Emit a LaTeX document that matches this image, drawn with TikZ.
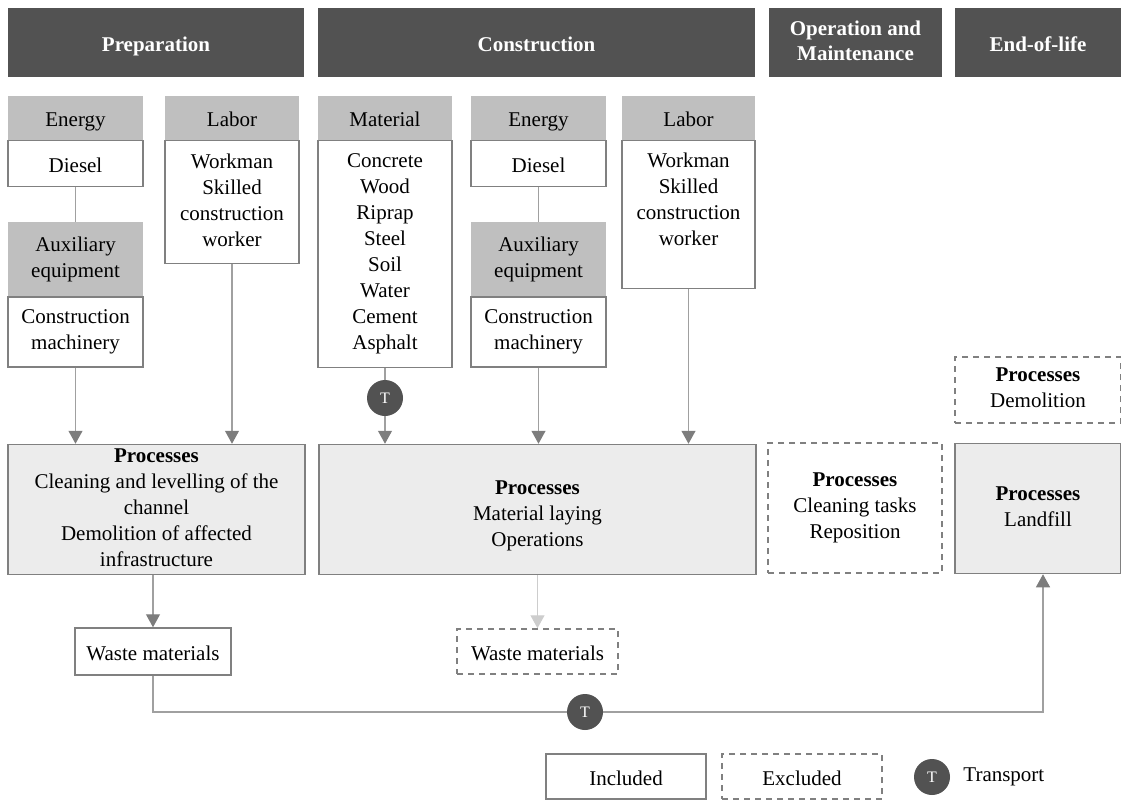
\documentclass[tikz,border=0pt]{standalone}
\usepackage{fontspec}
\setmainfont{Liberation Serif}
\usetikzlibrary{positioning,arrows.meta}

\definecolor{phasegray}{RGB}{82,82,82}
\definecolor{catgray}{RGB}{191,191,191}
\definecolor{procgray}{RGB}{236,236,236}
\definecolor{boxgray}{RGB}{128,128,128}
\definecolor{linegray}{RGB}{160,160,160}
\definecolor{headgray}{RGB}{125,125,125}
\definecolor{lightline}{RGB}{205,205,205}
\newcommand{\boxstrut}{\rule[-4pt]{0pt}{26pt}}

\begin{document}
\begin{tikzpicture}[
  x=1pt, y=-1pt,
  node distance=0pt,
  every node/.style={font=\fontsize{21}{26}\selectfont, align=center, inner sep=2pt},
  st/.style={execute at begin node=\boxstrut, execute at end node=\boxstrut},
  phase/.style={st, fill=phasegray, text=white, font=\fontsize{21}{25}\selectfont\bfseries, minimum height=69pt},
  cat/.style={st, fill=catgray, minimum height=44pt},
  item/.style={st, draw=boxgray, line width=1.5pt, fill=white},
  proc/.style={st, draw=boxgray, line width=1.5pt, fill=procgray, minimum height=130pt},
  excl/.style={st, draw=boxgray, line width=1.5pt, dash pattern=on 6pt off 5pt},
  tcirc/.style={circle, fill=phasegray, text=white, minimum size=36pt, inner sep=0pt, font=\fontsize{16}{18}\selectfont},
  link/.style={draw=linegray, line width=1.2pt},
  flow/.style={link, -{Triangle[width=14pt, length=13pt, color=headgray]}},
]
\useasboundingbox (0,0) rectangle (1121,800);

% life cycle phases
\node[phase, minimum width=296pt] (prep) at (156,42.5) {Preparation};
\node[phase, minimum width=437pt] (cons) at (536.5,42.5) {Construction};
\node[phase, minimum width=173pt] (oper) at (855.5,42.5) {Operation and\\Maintenance};
\node[phase, minimum width=166pt] (eol) at (1038,42.5) {End-of-life};

% preparation inputs
\node[cat, minimum width=135pt] (en1) at (75.5,117.5) {Energy};
\node[item, minimum width=135pt, minimum height=46pt, below=of en1] (diesel1) {Diesel};
\node[cat, minimum width=135pt, minimum height=74pt] (aux1) at (75.5,259) {Auxiliary\\equipment};
\node[item, minimum width=135pt, minimum height=70pt, below=of aux1] (mach1) {Construction\\machinery};
\node[cat, minimum width=134pt] (lab1) at (232,117.5) {Labor};
\node[item, minimum width=134pt, minimum height=123pt, below=of lab1] (work1) {Workman\\Skilled\\construction\\worker};

% construction inputs
\node[cat, minimum width=134pt] (mat) at (385,117.5) {Material};
\node[item, minimum width=134pt, minimum height=227pt, below=of mat] (matlist) {Concrete\\Wood\\Riprap\\Steel\\Soil\\Water\\Cement\\Asphalt};
\node[cat, minimum width=135pt] (en2) at (538.5,117.5) {Energy};
\node[item, minimum width=135pt, minimum height=46pt, below=of en2] (diesel2) {Diesel};
\node[cat, minimum width=135pt, minimum height=74pt] (aux2) at (538.5,259) {Auxiliary\\equipment};
\node[item, minimum width=135pt, minimum height=70pt, below=of aux2] (mach2) {Construction\\machinery};
\node[cat, minimum width=133pt] (lab2) at (688.5,117.5) {Labor};
\node[item, minimum width=133pt, minimum height=148pt, below=of lab2] (work2) {Workman\\Skilled\\construction\\worker\\};

% processes
\node[proc, minimum width=297pt] (proc1) at (156.5,509.5) {\textbf{Processes}\\Cleaning and levelling of the\\channel\\Demolition of affected\\infrastructure};
\node[proc, minimum width=437pt] (proc2) at (537.5,509.5) {\\\textbf{Processes}\\Material laying\\Operations};
\node[excl, minimum width=174pt, minimum height=130pt] (proc3) at (855,508) {\textbf{Processes}\\Cleaning tasks\\Reposition};
\node[proc, minimum width=166pt] (proc4) at (1038,508.5) {\textbf{Processes}\\Landfill};
\node[excl, minimum width=166pt, minimum height=66pt] (demol) at (1038,390) {\textbf{Processes}\\Demolition};

\node[tcirc] (t1) at (385,398) {T};

% waste
\node[item, minimum width=156pt, minimum height=47pt] (waste1) at (153,651.5) {Waste materials};
\node[excl, minimum width=161pt, minimum height=45pt] (waste2) at (537.5,651.5) {Waste materials};

\draw[link] (diesel1) -- (aux1);
\draw[link] (diesel2) -- (aux2);
\draw[link] (matlist) -- (t1);
\draw[flow] (mach1) -- (mach1 |- proc1.north);
\draw[flow] (work1) -- (work1 |- proc1.north);
\draw[flow] (t1) -- (t1 |- proc2.north);
\draw[flow] (mach2) -- (mach2 |- proc2.north);
\draw[flow] (work2) -- (work2 |- proc2.north);
\draw[flow] (waste1 |- proc1.south) -- (waste1);
\draw[link, draw=lightline, -{Triangle[width=14pt, length=13pt, color=lightline]}] (proc2) -- (waste2);

% transport to landfill
\coordinate (tpos) at (585,712);
\draw[flow] (waste1.south) |- (tpos) -| ([xshift=5pt]proc4.south);
\node[tcirc] (t2) at (tpos) {T};

% legend
\node[item, minimum width=160pt, minimum height=45pt] (incl) at (626,776.5) {Included};
\node[excl, minimum width=160pt, minimum height=45pt] (lgexcl) at (802,776.5) {Excluded};
\node[tcirc] (t3) at (932,777) {T};
\node[right=11pt of t3] (tlabel) {Transport};
\end{tikzpicture}
\end{document}
